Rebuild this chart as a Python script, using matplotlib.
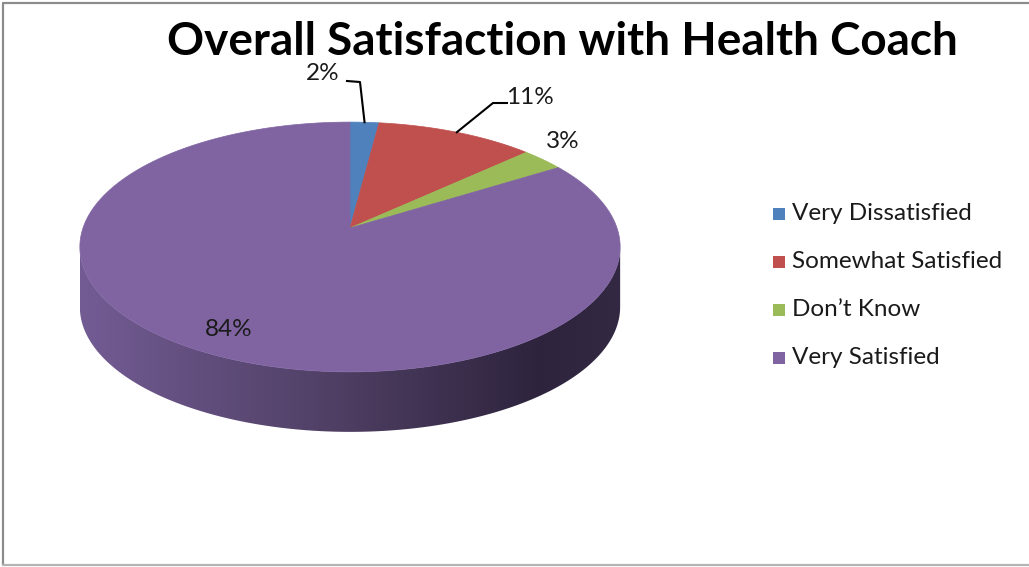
import numpy as np
import matplotlib.pyplot as plt
from matplotlib.patches import Polygon, Rectangle
from matplotlib.colors import LinearSegmentedColormap

# data
categories = ['Very Dissatisfied', 'Somewhat Satisfied', "Don\u2019t Know", 'Very Satisfied']
values = [2, 11, 3, 84]
colors = ['#4F81BD', '#C0504D', '#9BBB59', '#8064A2']
title = 'Overall Satisfaction with Health Coach'

# layout (pixel space of a 1029x567 canvas)
W, H = 1029, 567
cx, cy = 350, 228          # projected pie centre
sx, ty, k = 267, 122, 0.152  # perspective ellipse params
depth = 60

def proj(phi, r=1.0):
    # phi measured clockwise from 12 o'clock, in radians
    u = r * np.sin(phi)
    v = r * np.cos(phi)
    return cx + sx * u / (1 + k * v), cy - ty * v / (1 + k * v)

fig = plt.figure(figsize=(W / 100, H / 100), dpi=100)
ax = fig.add_axes([0, 0, 1, 1])
ax.set_xlim(0, W)
ax.set_ylim(H, 0)
ax.axis('off')

# frame
ax.plot([3, 3, W], [565, 3, 3], color='#8C8C8C', lw=1.6, solid_capstyle='butt')
ax.plot([3, W], [565, 565], color='#B4B4B4', lw=1.6)

# side of the cylinder (front half)
phis = np.linspace(0, 2 * np.pi, 2000)
xs, ys = proj(phis)
i_r = np.argmax(xs)
i_l = np.argmin(xs)
front = np.arange(i_r, i_l + 1)
top_x, top_y = xs[front], ys[front]
side = np.vstack([np.column_stack([top_x, top_y]),
                  np.column_stack([top_x[::-1], top_y[::-1] + depth])])
side_poly = Polygon(side, closed=True, facecolor='none', edgecolor='none')
ax.add_patch(side_poly)

grad_cmap = LinearSegmentedColormap.from_list('side', [
    (0.0, (0.45, 0.36, 0.58)),
    (0.50, (0.30, 0.24, 0.38)),
    (0.85, (0.18, 0.14, 0.24)),
    (1.0, (0.20, 0.16, 0.26))])
x0, x1 = xs.min(), xs.max()
grad = np.linspace(0, 1, 256).reshape(1, -1)
im = ax.imshow(grad, cmap=grad_cmap, extent=[x0, x1, ys.max() + depth + 2, ys.min()],
               aspect='auto', zorder=1)
im.set_clip_path(side_poly)

# top face wedges
bounds = np.concatenate([[0], np.cumsum(values)]) / np.sum(values) * 2 * np.pi
for i, c in enumerate(colors):
    a = np.linspace(bounds[i], bounds[i + 1], 300)
    px, py = proj(a)
    pts = np.vstack([[cx, cy], np.column_stack([px, py])])
    ax.add_patch(Polygon(pts, closed=True, facecolor=c, edgecolor=c, lw=0.5, zorder=2))

# data labels
lab_font = dict(family='Lato', fontsize=17.5, color='#1A1A1A', zorder=4)
pct = [f'{round(v / sum(values) * 100)}%' for v in values]
mids = (bounds[:-1] + bounds[1:]) / 2
label_pos = [(323, 73), (530, 97), (563, 142), (229, 329)]
elbows = [[(347, 81), (360, 82)], [(507, 103), (493, 103)], None, None]
for i in range(len(values)):
    ax.text(*label_pos[i], pct[i], ha='center', va='center', **lab_font)
    if elbows[i] is not None:
        ex, ey = proj(mids[i])
        lx = [p[0] for p in elbows[i]] + [ex]
        ly = [p[1] for p in elbows[i]] + [ey]
        ax.plot(lx, ly, color='black', lw=1.5, zorder=4)

# legend
leg_y = [214, 262, 310, 358]
for i, name in enumerate(categories):
    ax.add_patch(Rectangle((773, leg_y[i] - 6), 12, 12, facecolor=colors[i],
                           edgecolor='none', zorder=3))
    ax.text(792, leg_y[i], name, ha='left', va='center', **lab_font)

ax.text(562, 42, title, ha='center', va='center', family='Lato',
        fontweight='bold', fontsize=33, color='black')

fig.savefig('out.png', dpi=100)
